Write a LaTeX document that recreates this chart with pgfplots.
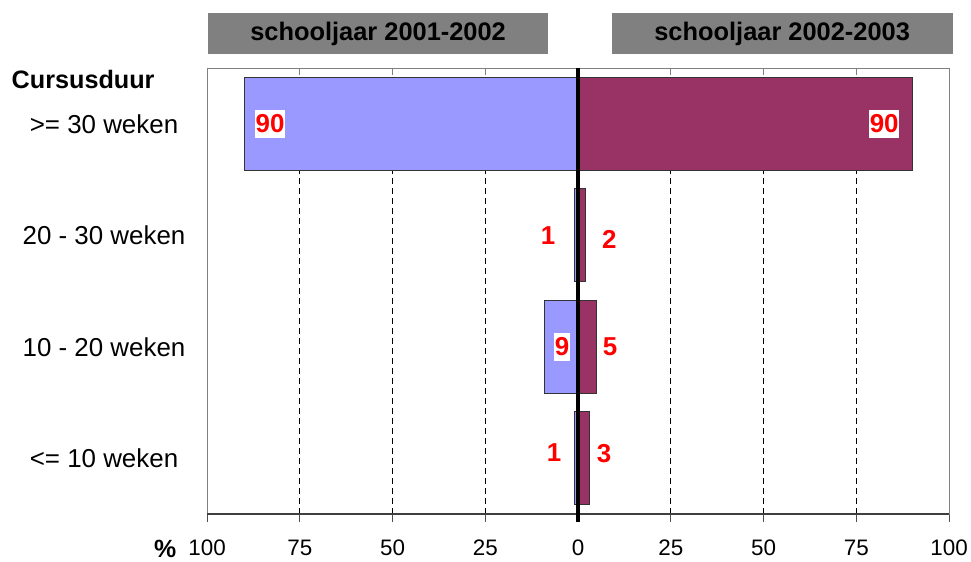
\documentclass[border=0pt]{standalone}
\usepackage{fontspec}
\setmainfont{Liberation Sans}
\usepackage{pgfplots}
\pgfplotsset{compat=1.18}
\definecolor{lav}{HTML}{9999FF}
\definecolor{plum}{HTML}{993366}
\definecolor{hdr}{HTML}{808080}
\newcommand{\lbl}{\fontsize{26}{30}\selectfont\bfseries\color{red}}
\begin{document}
\begin{tikzpicture}
\begin{axis}[
  scale only axis, width=742bp, height=446bp,
  xmin=-100, xmax=100, ymin=-0.5, ymax=3.5, y dir=reverse,
  xbar, bar shift=0pt, bar width=0.834,
  axis line style={draw=hdr, line width=1bp},
  xtick={-100,-75,...,100}, xticklabels={100,75,50,25,0,25,50,75,100},
  xtick pos=bottom, xtick align=outside, major tick length=8bp,
  xtick style={draw=black!70, line width=1bp},
  xticklabel style={font=\fontsize{22.5}{26}\selectfont, anchor=center, yshift=-26bp},
  ytick={0,1,2,3},
  yticklabels={{>= 30 weken},{20 - 30 weken},{10 - 20 weken},{<= 10 weken}},
  ytick style={draw=none},
  yticklabel style={font=\fontsize{26}{30}\selectfont, anchor=center, xshift=-95bp},
  clip=false]
% grid and top ticks
\pgfplotsinvokeforeach{-75,-50,-25,25,50,75}{
  \draw[black, dash pattern=on 6bp off 4bp, line width=0.8bp] (axis cs:#1,-0.5) -- (axis cs:#1,3.5);
  \draw[hdr, line width=1bp] (axis cs:#1,-0.5) -- (axis cs:#1,-0.437);
}
\addplot[fill=lav, draw=black!80, line width=0.8bp] coordinates {(-90,0) (-1,1) (-9,2) (-1,3)};
\addplot[fill=plum, draw=black!80, line width=0.8bp] coordinates {(90,0) (2,1) (5,2) (3,3)};
\draw[black!75, line width=1.2bp] (axis cs:-100,3.5) -- (axis cs:100,3.5);
\draw[black, line width=4bp] (axis cs:0,-0.5) -- (axis cs:0,3.57);
% value labels
\node[fill=white, inner xsep=0.5bp, inner ysep=5bp, font=\lbl] at (axis cs:-83,0) {90};
\node[fill=white, inner xsep=0.5bp, inner ysep=5bp, font=\lbl] at (axis cs:82.5,0) {90};
\node[font=\lbl] at (axis cs:-8.1,1.0) {1};
\node[font=\lbl] at (axis cs:8.4,1.04) {2};
\node[fill=white, inner xsep=0.5bp, inner ysep=5bp, font=\lbl] at (axis cs:-4.3,2) {9};
\node[font=\lbl] at (axis cs:8.6,2) {5};
\node[font=\lbl] at (axis cs:-6.5,2.95) {1};
\node[font=\lbl] at (axis cs:7.0,2.96) {3};
% headers
\fill[hdr] (axis cs:-99.7,-0.993) rectangle (axis cs:-8.09,-0.626);
\fill[hdr] (axis cs:9.16,-0.993) rectangle (axis cs:101.08,-0.626);
\node[font=\fontsize{25.5}{30}\selectfont\bfseries] at (axis cs:-53.9,-0.809) {schooljaar 2001-2002};
\node[font=\fontsize{25.5}{30}\selectfont\bfseries] at (axis cs:55.0,-0.809) {schooljaar 2002-2003};
\node[font=\fontsize{25.3}{30}\selectfont\bfseries] at (axis cs:-133.4,-0.401) {Cursusduur};
\node[font=\fontsize{25}{30}\selectfont\bfseries] at (axis cs:-111.3,3.814) {\%};
\coordinate (bbA) at (axis cs:-155.8,-1.11);
\coordinate (bbB) at (axis cs:105.9,3.922);
\end{axis}
\pgfresetboundingbox
\useasboundingbox (bbA) rectangle (bbB);
\end{tikzpicture}
\end{document}
